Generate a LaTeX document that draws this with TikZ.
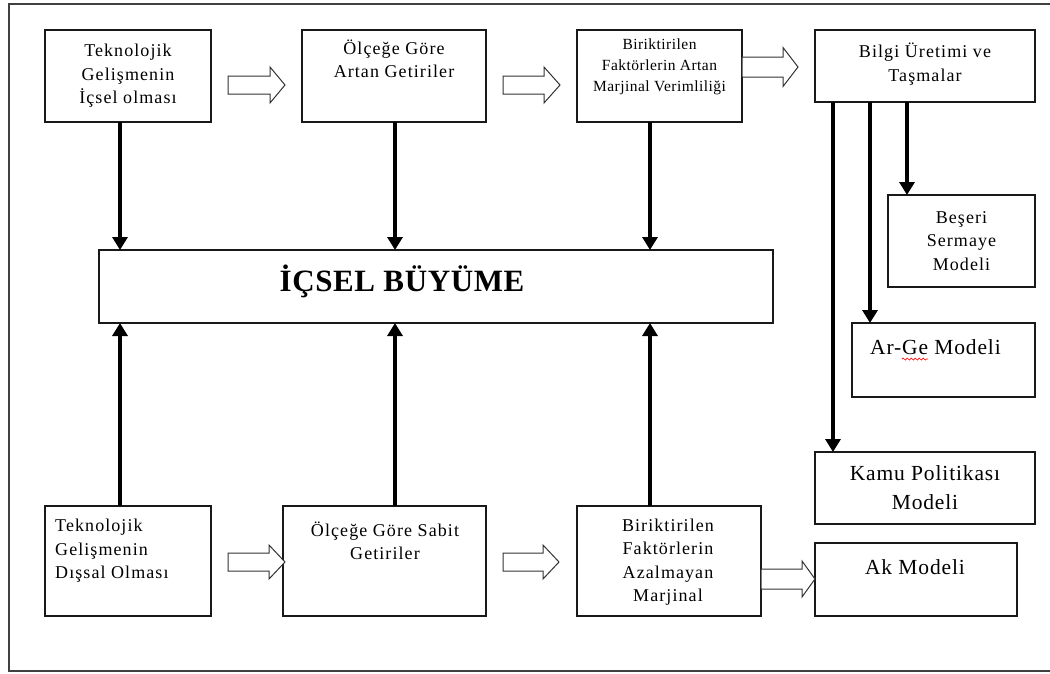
\documentclass[tikz,border=0pt]{standalone}
\usepackage{fontspec}
\setmainfont{Liberation Serif}
\newfontfamily\fA[LetterSpace=6]{Liberation Serif}
\newfontfamily\fB[LetterSpace=3]{Liberation Serif}
\newfontfamily\fC[LetterSpace=4]{Liberation Serif}
\newfontfamily\fD[LetterSpace=2]{Liberation Serif}
\usetikzlibrary{arrows.meta,decorations.pathmorphing}
\newcommand\harr[6]{%
  \draw[hol] (#1,#3-#5) -- (#2-#4,#3-#5) -- (#2-#4,#3-#6) -- (#2,#3)
    -- (#2-#4,#3+#6) -- (#2-#4,#3+#5) -- (#1,#3+#5) -- cycle;}
\begin{document}
\begin{tikzpicture}[x=1pt,y=-1pt,
  bx/.style 2 args={draw=black!90,line width=1.1pt,minimum width=#1,minimum height=#2,
    anchor=north west,inner sep=0pt,outer sep=0pt},
  tA/.style={align=center,inner sep=0pt,font=\fA\fontsize{18}{23.5}\selectfont},
  tB/.style={align=center,inner sep=0pt,font=\fB\fontsize{15.5}{21}\selectfont},
  tC/.style={align=center,inner sep=0pt,font=\fC\fontsize{21.5}{29}\selectfont},
  tBig/.style={inner sep=0pt,font=\fD\bfseries\fontsize{31}{34}\selectfont},
  thk/.style={line width=4pt,-{Triangle[width=15pt,length=13pt]}},
  hol/.style={draw=black!80,line width=1pt,fill=white,line join=miter}]
\useasboundingbox (0,0) rectangle (1050,673);
\draw[line width=1.4pt,black!75] (1051,4) -- (9,4) -- (9,671) -- (1051,671);

% top row
\node[bx={166}{92}] (b1) at (45,30) {};
\node[bx={184}{92}] (b2) at (302,30) {};
\node[bx={165}{92}] (b3) at (577,30) {};
\node[bx={220}{72}] (b4) at (815,30) {};
\node[tA] (t1) at (128,76) {Teknolojik\\Gelişmenin\\İçsel olması};
\node[tA] (t2) at (394,59) {Ölçeğe Göre\\Artan Getiriler};
\node[tB] (t3) at (659.5,67) {Biriktirilen\\Faktörlerin Artan\\Marjinal Verimliliği};
\node[tA] (t4) at (925,64) {Bilgi Üretimi ve\\Taşmalar};

% central
\node[bx={674}{73}] (c) at (99,250) {};
\node[tBig] (ct) at (402,281) {İÇSEL BÜYÜME};

% right column
\node[bx={147}{92}] (m1) at (888,195) {};
\node[bx={183}{74}] (m2) at (852,323) {};
\node[bx={220}{72}] (m3) at (815,452) {};
\node[bx={202}{73}] (m4) at (815,543) {};
\node[tA] (mt1) at (961.5,241) {Beşeri\\Sermaye\\Modeli};
\node[tC] (mt2) at (935.5,347) {Ar-Ge Modeli};
\node[tC] (mt3) at (925,488) {Kamu Politikası\\Modeli};
\node[tC] (mt4) at (915,567) {Ak Modeli};
\draw[red,line width=0.7pt,decorate,decoration={snake,amplitude=1pt,segment length=4pt}]
  (902,359) -- (928,359);

% bottom row
\node[bx={166}{110}] (d1) at (45,506) {};
\node[bx={203}{110}] (d2) at (283,506) {};
\node[bx={184}{110}] (d3) at (577,506) {};
\node[tA,align=left,anchor=west] (dt1) at (55,551) {Teknolojik\\Gelişmenin\\Dışsal Olması};
\node[tA] (dt2) at (385,541) {Ölçeğe Göre Sabit\\Getiriler};
\node[tA] (dt3) at (668,562) {Biriktirilen\\Faktörlerin\\Azalmayan\\Marjinal};

% vertical arrows
\coordinate (xa) at (120,0);
\coordinate (xb) at (395,0);
\coordinate (xc) at (650,0);
\coordinate (xd) at (833,0);
\coordinate (xe) at (870,0);
\coordinate (xf) at (907,0);
\draw[thk] (b1.south -| xa) -- (c.north -| xa);
\draw[thk] (b2.south -| xb) -- (c.north -| xb);
\draw[thk] (b3.south -| xc) -- (c.north -| xc);
\draw[thk] (d1.north -| xa) -- (c.south -| xa);
\draw[thk] (d2.north -| xb) -- (c.south -| xb);
\draw[thk] (d3.north -| xc) -- (c.south -| xc);
\draw[thk] (b4.south -| xd) -- (m3.north -| xd);
\draw[thk] (b4.south -| xe) -- (m2.north -| xe);
\draw[thk] (b4.south -| xf) -- (m1.north -| xf);

% hollow arrows
\harr{228}{285}{85}{15}{9}{18}
\harr{503}{560}{85}{16}{9}{18}
\harr{742}{798}{67}{15}{10}{19.5}
\harr{228}{285}{562}{16}{9}{17}
\harr{503}{559}{562}{16}{9}{17}
\harr{761}{815}{579}{13}{10}{18}
\end{tikzpicture}
\end{document}
